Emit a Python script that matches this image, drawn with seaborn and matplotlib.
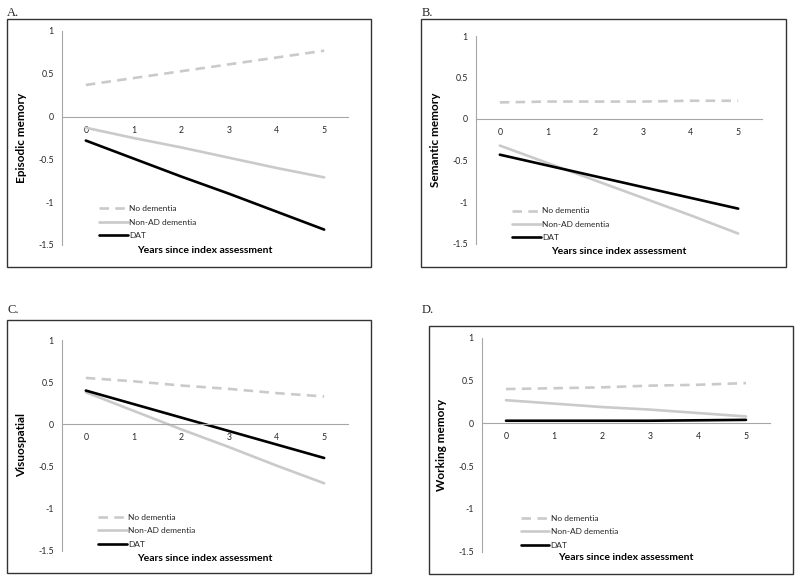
import numpy as np
import pandas as pd
import matplotlib
matplotlib.use("Agg")
import matplotlib.pyplot as plt
from matplotlib.patches import Rectangle
import seaborn as sns

# ---- data ----
years = [0, 1, 2, 3, 4, 5]
groups = ["No dementia", "Non-AD dementia", "DAT"]
panel_letters = ["A.", "B.", "C.", "D."]
domains = ["Episodic memory", "Semantic memory", "Visuospatial", "Working memory"]

episodic_none = [0.37, 0.45, 0.53, 0.61, 0.69, 0.77]
episodic_nonad = [-0.13, -0.25, -0.36, -0.48, -0.60, -0.71]
episodic_dat = [-0.28, -0.49, -0.70, -0.90, -1.11, -1.32]

semantic_none = [0.20, 0.21, 0.21, 0.21, 0.22, 0.22]
semantic_nonad = [-0.32, -0.53, -0.74, -0.95, -1.16, -1.38]
semantic_dat = [-0.43, -0.56, -0.69, -0.82, -0.95, -1.08]

visuo_none = [0.55, 0.51, 0.46, 0.42, 0.37, 0.33]
visuo_nonad = [0.38, 0.16, -0.06, -0.27, -0.49, -0.70]
visuo_dat = [0.40, 0.24, 0.08, -0.08, -0.24, -0.40]

working_none = [0.40, 0.41, 0.42, 0.44, 0.45, 0.47]
working_nonad = [0.27, 0.23, 0.19, 0.16, 0.12, 0.08]
working_dat = [0.03, 0.03, 0.03, 0.03, 0.035, 0.04]

y_ticks = [-1.5, -1, -0.5, 0, 0.5, 1]
y_ticklabels = ["-1.5", "-1", "-0.5", "0", "0.5", "1"]

series = [
    (episodic_none, episodic_nonad, episodic_dat),
    (semantic_none, semantic_nonad, semantic_dat),
    (visuo_none, visuo_nonad, visuo_dat),
    (working_none, working_nonad, working_dat),
]

# ---- layout (figure pixels, 800 x 580) ----
W, H = 800, 580
# plot area: x_left, x_right, y_top(=1), y_bottom(=-1.5)
plot_boxes = [(62, 348, 31, 245), (476, 762, 36, 243.5),
              (62, 348, 340, 550.7), (482, 770, 337.7, 551.7)]
frame_boxes = [(7, 371, 19, 267), (421, 786, 19, 267),
               (7, 371, 320, 573), (429, 793, 326, 574)]
letter_pos = [(7, 13), (422, 13), (7, 310), (422, 310)]
legend_pos = [(0.13, 0.107), (0.127, 0.093), (0.127, 0.094), (0.134, 0.093)]
xlabel_y = [-0.028, -0.04, -0.035, -0.025]

palette = {"No dementia": "#cacaca", "Non-AD dementia": "#cacaca", "DAT": "#000000"}
dashes = {"No dementia": (3.6, 2.4), "Non-AD dementia": "", "DAT": ""}
axis_grey = "#a6a6a6"
text_col = "#262626"

sns.set_style("white")
plt.rcParams["font.family"] = ["Lato", "DejaVu Sans"]

fig = plt.figure(figsize=(W / 100, H / 100), dpi=100)

for i in range(4):
    x0, x1, yt, yb = plot_boxes[i]
    ax = fig.add_axes([x0 / W, 1 - yb / H, (x1 - x0) / W, (yb - yt) / H])

    none_v, nonad_v, dat_v = series[i]
    df = pd.DataFrame({
        "year": years * 3,
        "score": list(none_v) + list(nonad_v) + list(dat_v),
        "group": [g for g in groups for _ in years],
    })
    sns.lineplot(data=df, x="year", y="score", hue="group", style="group",
                 hue_order=groups, style_order=groups, palette=palette,
                 dashes=dashes, linewidth=1.9, ax=ax)

    ax.set_xlim(-0.5, 5.5)
    ax.set_ylim(-1.5, 1)
    for s in ["top", "right"]:
        ax.spines[s].set_visible(False)
    ax.spines["bottom"].set_position(("data", 0))
    for s in ["bottom", "left"]:
        ax.spines[s].set_color(axis_grey)
        ax.spines[s].set_linewidth(0.8)

    ax.set_xticks(years)
    ax.set_xticklabels([str(y) for y in years])
    ax.set_xticks(np.arange(-0.5, 6, 1), minor=True)
    ax.tick_params(axis="x", which="major", length=0, pad=6.5,
                   labelsize=6.3, labelcolor=text_col)
    ax.tick_params(axis="x", which="minor", length=3, width=0.8,
                   color=axis_grey, direction="out")
    ax.set_yticks(y_ticks)
    ax.set_yticklabels(y_ticklabels)
    ax.tick_params(axis="y", length=3, width=0.8, color=axis_grey,
                   direction="out", pad=3, labelsize=6.3, labelcolor=text_col)

    ax.set_xlabel("Years since index assessment", fontsize=7.5,
                  fontweight="bold", color="black")
    ax.xaxis.set_label_coords(0.5, xlabel_y[i])
    ax.xaxis.label.set_va("center")
    ax.set_ylabel(domains[i], fontsize=8.5, fontweight="bold", color="black")
    ax.yaxis.set_label_coords(-0.14, 0.5)
    ax.yaxis.label.set_va("center")

    handles, labels = ax.get_legend_handles_labels()
    lx, ly = legend_pos[i]
    ax.legend(handles, labels, loc="center left", bbox_to_anchor=(lx, ly),
              frameon=False, fontsize=6, handlelength=3.4,
              handletextpad=0.2, labelspacing=0.75, borderpad=0,
              borderaxespad=0, labelcolor=text_col)

    fx0, fx1, fyt, fyb = frame_boxes[i]
    fig.add_artist(Rectangle((fx0 / W, 1 - fyb / H), (fx1 - fx0) / W,
                             (fyb - fyt) / H, transform=fig.transFigure,
                             fill=False, edgecolor="#333333", linewidth=1))

    px, py = letter_pos[i]
    fig.text(px / W, 1 - py / H, panel_letters[i], fontsize=9,
             family=["Liberation Serif", "DejaVu Serif"], va="center", ha="left")

fig.savefig("out.png", dpi=100, facecolor="white")
